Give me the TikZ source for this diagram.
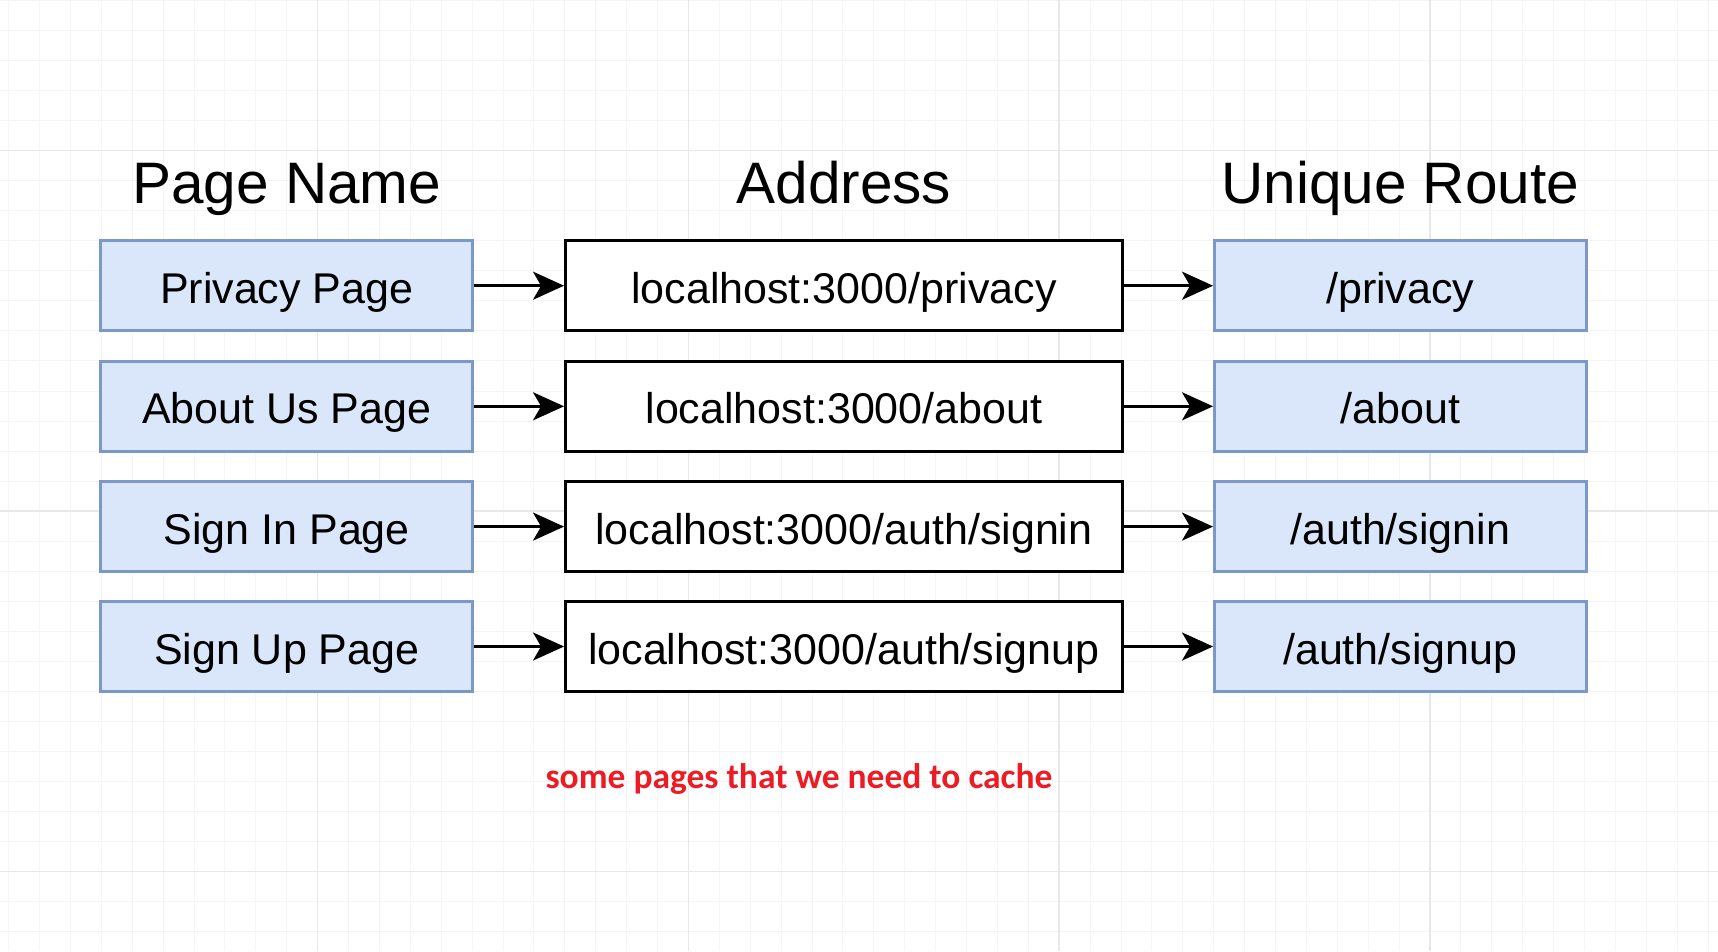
\documentclass[tikz,border=0pt]{standalone}
\usepackage{fontspec}
\setmainfont{Liberation Sans}
\newfontfamily\carlito{Carlito}
\usetikzlibrary{arrows.meta}
\definecolor{bluefill}{RGB}{218,230,250}
\definecolor{bluedraw}{RGB}{124,152,200}
\definecolor{gridminor}{RGB}{245,245,245}
\definecolor{gridmajor}{RGB}{232,232,232}
\definecolor{redtxt}{RGB}{237,28,36}
\begin{document}
\begin{tikzpicture}[x=1pt,y=-1pt,
  bluebox/.style={draw=bluedraw, fill=bluefill, line width=2.5pt, minimum width=372pt, minimum height=90pt, inner sep=0pt, font=\fontsize{43}{50}\selectfont, text height=35.2pt, text depth=0pt},
  blackbox/.style={draw=black, fill=white, line width=2.7pt, minimum width=557pt, minimum height=90pt, inner sep=0pt, font=\fontsize{43}{50}\selectfont, text height=35.2pt, text depth=0pt},
  header/.style={anchor=base, inner sep=0pt, font=\fontsize{58.5}{66}\selectfont},
  arr/.style={draw=black, line width=2.8pt, -{Stealth[length=31pt, width=28pt, inset=8pt]}}
]
\useasboundingbox (0,0) rectangle (1718,951);
\fill[white] (0,0) rectangle (1718,951);
% grid
\foreach \k in {-10,...,45} \draw[gridminor, line width=1pt] ({317.6+\k*30.9},0) -- ({317.6+\k*30.9},951);
\foreach \k in {-5,...,26} \draw[gridminor, line width=1pt] (0,{150.7+\k*30.04}) -- (1718,{150.7+\k*30.04});
\foreach \k in {0,1,2,3} \draw[gridmajor, line width=1.5pt] ({317.6+\k*370.8},0) -- ({317.6+\k*370.8},951);
\foreach \k in {0,1,2} \draw[gridmajor, line width=1.5pt] (0,{150.7+\k*360.5}) -- (1718,{150.7+\k*360.5});
% headers
\node[header] (h1) at (286.7,203.3) {Page Name};
\node[header] (h2) at (843.9,203.3) {Address};
\node[header] (h3) at (1400.3,203.3) {Unique Route};
% rows
\node[bluebox] (p1) at (286.7,285.7) {Privacy Page};
\node[bluebox] (p2) at (286.7,406.3) {About Us Page};
\node[bluebox] (p3) at (286.7,526.6) {Sign In Page};
\node[bluebox] (p4) at (286.7,646.5) {Sign Up Page};
\node[blackbox] (a1) at (843.9,285.7) {localhost:3000/privacy};
\node[blackbox] (a2) at (843.9,406.3) {localhost:3000/about};
\node[blackbox] (a3) at (843.9,526.6) {localhost:3000/auth/signin};
\node[blackbox] (a4) at (843.9,646.5) {localhost:3000/auth/signup};
\node[bluebox] (r1) at (1400.3,285.7) {/privacy};
\node[bluebox] (r2) at (1400.3,406.3) {/about};
\node[bluebox] (r3) at (1400.3,526.6) {/auth/signin};
\node[bluebox] (r4) at (1400.3,646.5) {/auth/signup};
\foreach \i in {1,2,3,4} {
  \draw[arr] (p\i.east) -- (a\i.west);
  \draw[arr] (a\i.east) -- (r\i.west);
}
\node[anchor=base, inner sep=0pt, text=redtxt, font=\carlito\bfseries\fontsize{35.5}{40}\selectfont] (note) at (799,788.3) {some pages that we need to cache};
\end{tikzpicture}
\end{document}
